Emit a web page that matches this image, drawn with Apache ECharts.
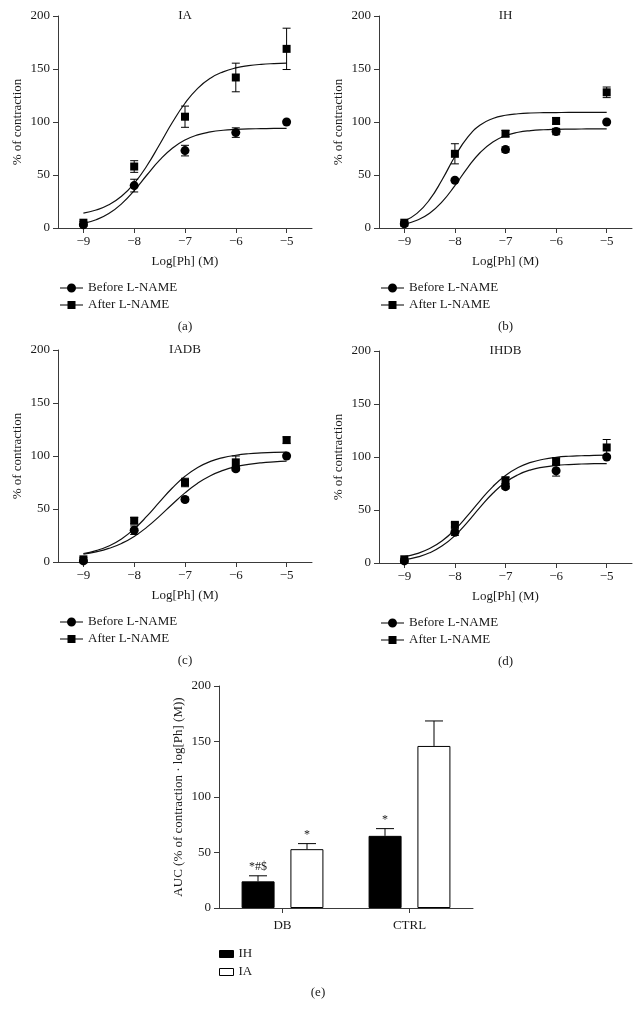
<!DOCTYPE html>
<html><head><meta charset="utf-8">
<script src="https://cdn.jsdelivr.net/npm/echarts@6/dist/echarts.min.js"></script>
<style>html,body{margin:0;padding:0;background:#fff}#c{width:642px;height:1020px}</style>
</head><body><div id="c"></div>
<script>
// ---------- data ----------
const doses = [-9, -8, -7, -6, -5];
const xTicks = [-9, -8, -7, -6, -5];
const curveX = [-9, -8.75, -8.5, -8.25, -8, -7.75, -7.5, -7.25, -7, -6.75, -6.5, -6.25, -6, -5.75, -5.5, -5.25, -5];

// (a) IA
const iaBefore = [3, 40, 73, 90, 100];
const iaBeforeErr = [0, 6, 5, 4.5, 0];
const iaAfter = [5, 58, 105, 142, 169];
const iaAfterErr = [1, 5.5, 10, 13.5, 19.5];
const iaBeforeFit = [4.3, 7.8, 13.6, 22.8, 35.3, 50.0, 64.0, 75.3, 83.1, 87.9, 90.6, 92.2, 93.0, 93.5, 93.7, 93.9, 93.9];
const iaAfterFit = [14.0, 17.0, 21.9, 30.0, 42.1, 58.7, 78.8, 99.5, 117.7, 131.7, 141.3, 147.3, 151.0, 153.1, 154.4, 155.1, 155.5];
// (b) IH
const ihBefore = [4, 45, 74, 91, 100];
const ihBeforeErr = [0, 0, 2.5, 3, 0];
const ihAfter = [5, 70, 89, 101, 128];
const ihAfterErr = [1, 9.5, 3, 3, 5];
const ihBeforeFit = [3.7, 7.3, 14.0, 24.9, 40.0, 56.8, 71.2, 81.2, 87.1, 90.3, 91.9, 92.7, 93.1, 93.3, 93.4, 93.5, 93.5];
const ihAfterFit = [6.6, 13.8, 26.7, 45.8, 67.4, 85.5, 97.1, 103.3, 106.4, 107.8, 108.5, 108.8, 108.9, 109, 109, 109, 109];
// (c) IADB
const iadbBefore = [1, 30, 59, 88, 100];
const iadbBeforeErr = [0, 4, 2, 2, 0];
const iadbAfter = [2.5, 39, 75, 94, 115];
const iadbAfterErr = [1.5, 3, 4, 6, 3];
const iadbBeforeFit = [7.5, 9.6, 12.8, 17.5, 24.1, 32.9, 43.3, 54.5, 65.2, 74.3, 81.4, 86.4, 89.9, 92.1, 93.6, 94.5, 95.1];
const iadbAfterFit = [8.0, 10.8, 15.1, 21.8, 31.2, 43.2, 56.7, 69.8, 80.9, 89.2, 94.9, 98.5, 100.7, 102.1, 102.9, 103.4, 103.6];
// (d) IHDB
const ihdbBefore = [2, 29, 72, 87, 100];
const ihdbBeforeErr = [0, 3, 2, 5, 0];
const ihdbAfter = [3.5, 36, 78, 96, 109];
const ihdbAfterErr = [1, 2, 3, 3, 7.5];
const ihdbBeforeFit = [3.1, 5.5, 9.6, 16.2, 25.9, 38.6, 52.7, 65.8, 76.2, 83.3, 87.9, 90.5, 92.1, 92.9, 93.4, 93.7, 93.8];
const ihdbAfterFit = [6.0, 8.9, 13.6, 21.0, 31.4, 44.6, 58.9, 72.1, 82.6, 90.1, 94.9, 97.9, 99.7, 100.7, 101.2, 101.6, 101.8];
// (e) AUC
const aucGroups = ['DB', 'CTRL'];
const aucIH = [24, 65];
const aucIHErr = [5, 6.5];
const aucIHMarks = ['*#$', '*'];
const aucIA = [53, 146];
const aucIAErr = [5, 22.5];
const aucIAMarks = ['*', ''];

// ---------- styling ----------
const F = 'Liberation Serif';
const TXT = '#1a1a1a';
const AX = '#3a3a3a';
const BEFORE = 'Before L-NAME', AFTER = 'After L-NAME';
const circleIcon = 'path://M0,4.5 H23 V5.5 H0 Z M16,5 A4.5,4.5 0 1 1 7,5 A4.5,4.5 0 1 1 16,5 Z';
const squareIcon = 'path://M0,4.5 H23 V5.5 H0 Z M7.5,1 H15.5 V9 H7.5 Z';

function errBar(half) {
  return function (params, api) {
    const x = api.value(0), y = api.value(1), e = api.value(2);
    if (!e) return { type: 'group', children: [] };
    const t = api.coord([x, y + e]), b = api.coord([x, y - e]);
    const st = { stroke: '#000', lineWidth: 1 };
    return { type: 'group', children: [
      { type: 'line', shape: { x1: t[0], y1: t[1], x2: b[0], y2: b[1] }, style: st },
      { type: 'line', shape: { x1: t[0] - half, y1: t[1], x2: t[0] + half, y2: t[1] }, style: st },
      { type: 'line', shape: { x1: b[0] - half, y1: b[1], x2: b[0] + half, y2: b[1] }, style: st }
    ]};
  };
}
function barErr(offset, half, marks) {
  return function (params, api) {
    const c = api.value(0), v = api.value(1), e = api.value(2);
    const b = api.coord([c, v]), t = api.coord([c, v + e]);
    const x = b[0] + offset;
    const st = { stroke: '#000', lineWidth: 1 };
    return { type: 'group', children: [
      { type: 'line', shape: { x1: x, y1: b[1], x2: x, y2: t[1] }, style: st },
      { type: 'line', shape: { x1: x - half, y1: t[1], x2: x + half, y2: t[1] }, style: st },
      { type: 'text', style: { text: marks[params.dataIndex], x: x, y: t[1] - 3, align: 'center', verticalAlign: 'bottom', textAlign: 'center', textVerticalAlign: 'bottom', fontSize: 12, fontFamily: F, fill: TXT } }
    ]};
  };
}

const grids = [], xAxes = [], yAxes = [], series = [], legends = [], graphics = [];
const axisCommon = {
  axisLine: { show: true, onZero: false, lineStyle: { color: AX, width: 1 } },
  splitLine: { show: false },
  nameTextStyle: { color: TXT, fontFamily: F, fontSize: 13 }
};

function addPanel(i, rect, title, letter, before, beforeErr, after, afterErr, beforeFit, afterFit) {
  grids.push({ left: rect.left, top: rect.top, width: rect.width, height: rect.height });
  xAxes.push(Object.assign({}, axisCommon, {
    type: 'value', gridIndex: i, min: -9.5, max: -4.5,
    axisTick: { show: true, length: 5, customValues: xTicks, lineStyle: { color: AX } },
    axisLabel: { customValues: xTicks, margin: 7, color: TXT, fontFamily: F, fontSize: 13,
      formatter: v => String(v).replace('-', '\u2212') },
    name: 'Log[Ph] (M)', nameLocation: 'middle', nameGap: 27
  }));
  yAxes.push(Object.assign({}, axisCommon, {
    type: 'value', gridIndex: i, min: 0, max: 200, interval: 50,
    axisTick: { show: true, length: 5, lineStyle: { color: AX } },
    axisLabel: { margin: 8, color: TXT, fontFamily: F, fontSize: 13 },
    name: '% of contraction', nameLocation: 'middle', nameGap: 34
  }));
  const fitStyle = { color: '#111', width: 1.2 };
  const mark = { color: '#000', opacity: 1 };
  series.push(
    { type: 'line', name: 'fit-before', xAxisIndex: i, yAxisIndex: i, data: curveX.map((x, k) => [x, beforeFit[k]]), smooth: true, showSymbol: false, symbol: 'none', lineStyle: fitStyle, itemStyle: { color: '#111' }, silent: true, z: 2 },
    { type: 'line', name: 'fit-after', xAxisIndex: i, yAxisIndex: i, data: curveX.map((x, k) => [x, afterFit[k]]), smooth: true, showSymbol: false, symbol: 'none', lineStyle: fitStyle, itemStyle: { color: '#111' }, silent: true, z: 2 },
    { type: 'custom', name: 'err-before', xAxisIndex: i, yAxisIndex: i, renderItem: errBar(4), encode: { x: 0, y: 1 }, data: doses.map((x, k) => [x, before[k], beforeErr[k]]), z: 3, silent: true },
    { type: 'custom', name: 'err-after', xAxisIndex: i, yAxisIndex: i, renderItem: errBar(4), encode: { x: 0, y: 1 }, data: doses.map((x, k) => [x, after[k], afterErr[k]]), z: 3, silent: true },
    { type: 'scatter', name: BEFORE, xAxisIndex: i, yAxisIndex: i, data: doses.map((x, k) => [x, before[k]]), symbol: 'circle', symbolSize: 9, itemStyle: mark, z: 4 },
    { type: 'scatter', name: AFTER, xAxisIndex: i, yAxisIndex: i, data: doses.map((x, k) => [x, after[k]]), symbol: 'rect', symbolSize: 8, itemStyle: mark, z: 4 }
  );
  legends.push({
    orient: 'vertical', left: rect.left + 2, top: rect.top + rect.height + 52.5, padding: 0,
    itemWidth: 23, itemHeight: 10, itemGap: 2, selectedMode: false,
    itemStyle: { opacity: 1 },
    textStyle: { color: TXT, fontFamily: F, fontSize: 13, lineHeight: 15 },
    data: [{ name: BEFORE, icon: circleIcon }, { name: AFTER, icon: squareIcon }]
  });
  const cx = rect.left + rect.width / 2;
  graphics.push(
    { type: 'text', x: cx, y: rect.top, style: { text: title, align: 'center', verticalAlign: 'middle', textAlign: 'center', textVerticalAlign: 'middle', fontSize: 13, fontFamily: F, fill: TXT } },
    { type: 'text', x: cx, y: rect.top + rect.height + 99, style: { text: letter, align: 'center', verticalAlign: 'middle', textAlign: 'center', textVerticalAlign: 'middle', fontSize: 13, fontFamily: F, fill: TXT } }
  );
}

addPanel(0, { left: 58, top: 16, width: 254, height: 212 }, 'IA', '(a)', iaBefore, iaBeforeErr, iaAfter, iaAfterErr, iaBeforeFit, iaAfterFit);
addPanel(1, { left: 379, top: 16, width: 253, height: 212 }, 'IH', '(b)', ihBefore, ihBeforeErr, ihAfter, ihAfterErr, ihBeforeFit, ihAfterFit);
addPanel(2, { left: 58, top: 350, width: 254, height: 212 }, 'IADB', '(c)', iadbBefore, iadbBeforeErr, iadbAfter, iadbAfterErr, iadbBeforeFit, iadbAfterFit);
addPanel(3, { left: 379, top: 351, width: 253, height: 212 }, 'IHDB', '(d)', ihdbBefore, ihdbBeforeErr, ihdbAfter, ihdbAfterErr, ihdbBeforeFit, ihdbAfterFit);

// (e) bar chart
grids.push({ left: 219, top: 686, width: 254, height: 222 });
xAxes.push(Object.assign({}, axisCommon, {
  type: 'category', gridIndex: 4, data: aucGroups,
  axisTick: { show: true, length: 5, alignWithLabel: true, lineStyle: { color: AX } },
  axisLabel: { margin: 11, color: TXT, fontFamily: F, fontSize: 13 }
}));
yAxes.push(Object.assign({}, axisCommon, {
  type: 'value', gridIndex: 4, min: 0, max: 200, interval: 50,
  axisTick: { show: true, length: 5, lineStyle: { color: AX } },
  axisLabel: { margin: 8, color: TXT, fontFamily: F, fontSize: 13 },
  name: 'AUC (% of contraction \u00b7 log[Ph] (M))', nameLocation: 'middle', nameGap: 34
}));
series.push(
  { type: 'bar', name: 'IH', xAxisIndex: 4, yAxisIndex: 4, data: aucIH, barWidth: 33, barGap: '48%', itemStyle: { color: '#000', borderColor: '#000', borderWidth: 1, opacity: 1 }, z: 2 },
  { type: 'bar', name: 'IA', xAxisIndex: 4, yAxisIndex: 4, data: aucIA, barWidth: 33, barGap: '48%', itemStyle: { color: '#fff', borderColor: '#000', borderWidth: 1, opacity: 1 }, z: 2 },
  { type: 'custom', name: 'err-IH', xAxisIndex: 4, yAxisIndex: 4, renderItem: barErr(-24.5, 9, aucIHMarks), encode: { x: 0, y: 1 }, data: aucIH.map((v, k) => [k, v, aucIHErr[k]]), z: 3, silent: true },
  { type: 'custom', name: 'err-IA', xAxisIndex: 4, yAxisIndex: 4, renderItem: barErr(24.5, 9, aucIAMarks), encode: { x: 0, y: 1 }, data: aucIA.map((v, k) => [k, v, aucIAErr[k]]), z: 3, silent: true }
);
legends.push({
  orient: 'vertical', left: 219, top: 946.5, padding: 0,
  itemWidth: 14, itemHeight: 7, itemGap: 3, selectedMode: false,
  itemStyle: { borderWidth: 1 },
  textStyle: { color: TXT, fontFamily: F, fontSize: 13, lineHeight: 15 },
  data: [{ name: 'IH', icon: 'rect' }, { name: 'IA', icon: 'rect' }]
});
graphics.push({ type: 'text', x: 318, y: 993, style: { text: '(e)', align: 'center', verticalAlign: 'middle', textAlign: 'center', textVerticalAlign: 'middle', fontSize: 13, fontFamily: F, fill: TXT } });

const chart = echarts.init(document.getElementById('c'), null, { renderer: 'canvas' });
chart.setOption({
  animation: false,
  backgroundColor: '#fff',
  textStyle: { fontFamily: F },
  grid: grids, xAxis: xAxes, yAxis: yAxes, series: series, legend: legends,
  graphic: graphics
});
</script></body></html>
